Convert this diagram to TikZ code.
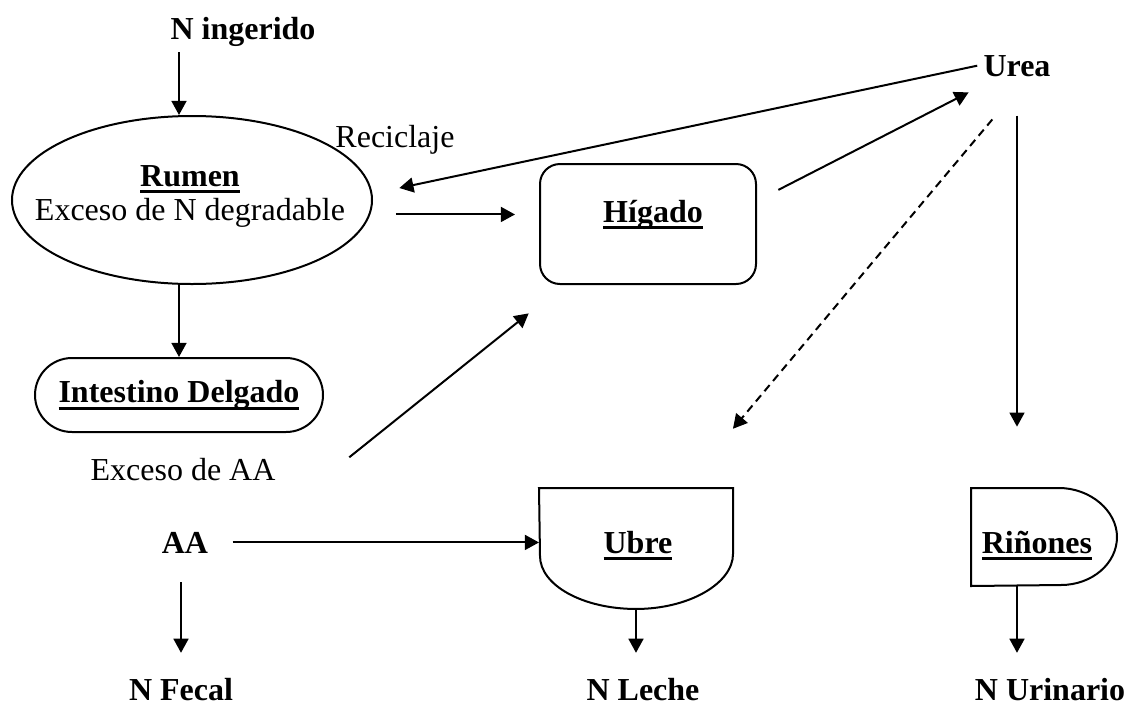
\documentclass[tikz,border=0pt]{standalone}
\usepackage{fontspec}
\setmainfont{Liberation Serif}
\usetikzlibrary{positioning,arrows.meta,shapes.geometric,shapes.misc}

\newsavebox{\ulbox}
\newcommand{\ulb}[1]{\sbox{\ulbox}{\bfseries #1}\rlap{\rule[-2.6pt]{\wd\ulbox}{1.1pt}}\usebox{\ulbox}}

\begin{document}
\begin{tikzpicture}[
    x=0.375pt, y=-0.375pt,
    >={Triangle[length=5.3pt,width=5.6pt]},
    line width=0.75pt,
    every node/.style={font=\fontsize{12}{13.1}\selectfont, inner sep=2pt},
    etiq/.style={font=\fontsize{12}{13.1}\selectfont\bfseries, anchor=base},
    texto/.style={anchor=base},
    ovalo/.style={ellipse, draw, inner sep=0pt, minimum width=135pt, minimum height=63pt},
    capsula/.style={rounded rectangle, draw, inner sep=0pt, minimum width=108pt, minimum height=27.75pt},
    caja/.style={rectangle, draw, rounded corners=7.5pt, inner sep=0pt, minimum width=81pt, minimum height=45pt},
    hueco/.style={rectangle, inner sep=0pt}
  ]
  \useasboundingbox (0,0) rectangle (1133,722);

  % nodos
  \node[etiq] (ningerido) at (243,39) {N ingerido};
  \node[ovalo] (rumen) at (192,200) {};
  \node[align=center] (rumentxt) at (190,196.5) {\ulb{Rumen}\\Exceso de N degradable};
  \node[texto] (reciclaje) at (395,147) {Reciclaje};
  \node[capsula] (intestino) at (179,395) {\ulb{Intestino Delgado}};
  \node[caja] (higado) at (648,224) {};
  \node[texto] (higadotxt) at (653,222) {\ulb{Hígado}};
  \node[etiq] (urea) at (1017,76) {Urea};
  \node[texto] (excesoaa) at (183,480) {Exceso de AA};
  \node[etiq] (aa) at (185,553) {AA};
  \node[hueco, minimum width=72pt, minimum height=44.6pt] (ubre) at (636,548.5) {};
  \node[texto] (ubretxt) at (638,553) {\ulb{Ubre}};
  \node[hueco, minimum width=54pt, minimum height=36pt] (rinones) at (1044,537) {};
  \node[texto] (rinonestxt) at (1037,553) {\ulb{Riñones}};
  \node[etiq] (nfecal) at (181,700) {N Fecal};
  \node[etiq] (nleche) at (643,700) {N Leche};
  \node[etiq] (nurinario) at (1050,700) {N Urinario};

  % contornos de ubre y riñones
  \draw (ubre.north west) -- (ubre.north east) -- ++(0,66)
    .. controls +(0,29.3) and +(53,0) .. (ubre.south)
    .. controls +(-53,0) and +(0,29.3) .. ++(-96,-53) -- cycle;
  \draw (rinones.north west) -- ++(88,0)
    .. controls +(31,0) and +(0,-26.5) .. (rinones.east)
    .. controls +(0,26.5) and +(31,0) .. ++(-56,48) -- (rinones.south west) -- cycle;

  % conexiones
  \draw[->] (ningerido.south -| intestino) -- (rumen.north -| intestino);
  \draw[->] (rumen.south -| intestino) -- (intestino.north);
  \draw[->, shorten <=8.6pt, shorten >=9pt] (rumen.east |- higado.175) -- (higado.175);
  \draw[->, shorten >=10.3pt] (urea.west) -- (rumen.2);
  \draw[->, shorten <=9pt, shorten >=8pt] (higado.12) -- (urea.210);
  \draw[->, dash pattern=on 3pt off 2pt, shorten <=18pt, shorten >=29pt] (urea.290) -- (ubre.52);
  \draw[->, shorten <=12.4pt, shorten >=23pt] (urea.south) -- (urea.south |- rinones.north);
  \draw[->, shorten >=7pt] (rinones.south -| urea) -- (urea |- nurinario.north);
  \draw[->, shorten <=17.6pt, shorten >=17pt] ([xshift=11.6pt]excesoaa.south east) -- (higado.216);
  \draw[->, shorten <=6.8pt] (aa.east) -- (aa.east -| ubre.west);
  \draw[->, shorten <=8.6pt, shorten >=7pt] (aa.south -| nfecal) -- (nfecal.north);
  \draw[->, shorten >=7pt] (ubre.south) -- (ubre.south |- nleche.north);

\end{tikzpicture}
\end{document}
